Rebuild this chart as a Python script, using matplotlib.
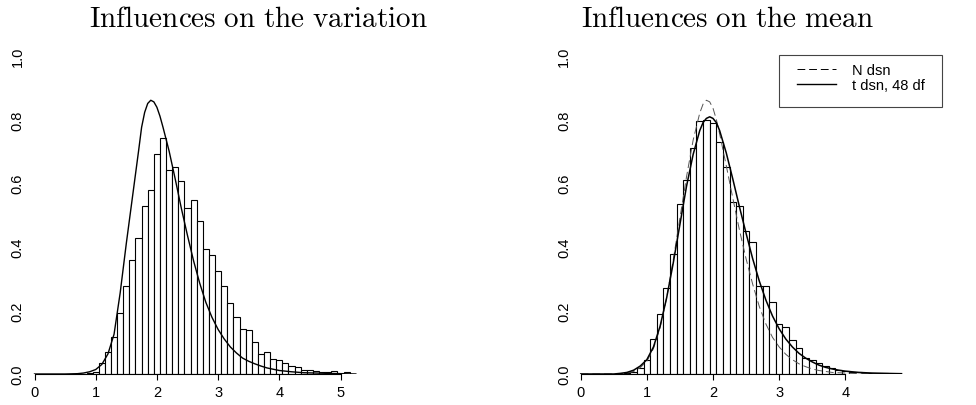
import numpy as np
import matplotlib
matplotlib.use("Agg")
import matplotlib.pyplot as plt
from matplotlib.lines import Line2D
from matplotlib.patches import Rectangle

matplotlib.rcParams["font.family"] = "sans-serif"
matplotlib.rcParams["font.sans-serif"] = ["Liberation Sans", "DejaVu Sans"]
matplotlib.rcParams["mathtext.fontset"] = "cm"

# histogram bins (width 0.1, edges at x.x5)
left_edges = np.round(np.arange(0.85, 5.251, 0.1), 2)
left_dens = [0.002, 0.006, 0.033, 0.069, 0.115, 0.192, 0.277, 0.358, 0.428, 0.527,
             0.577, 0.690, 0.740, 0.642, 0.650, 0.607, 0.522, 0.547, 0.482, 0.394,
             0.373, 0.324, 0.278, 0.223, 0.179, 0.142, 0.137, 0.101, 0.063, 0.069,
             0.048, 0.045, 0.034, 0.026, 0.021, 0.013, 0.012, 0.009, 0.006, 0.005,
             0.010, 0.003, 0.007, 0.001]

right_edges = np.round(np.arange(0.65, 4.851, 0.1), 2)
right_dens = [0.002, 0.007, 0.020, 0.045, 0.109, 0.188, 0.270, 0.377, 0.535, 0.609,
              0.710, 0.794, 0.797, 0.789, 0.729, 0.651, 0.540, 0.527, 0.450, 0.416,
              0.275, 0.276, 0.227, 0.157, 0.147, 0.108, 0.083, 0.050, 0.045, 0.034,
              0.024, 0.018, 0.012, 0.009, 0.006, 0.005, 0.004, 0.003, 0.002, 0.002,
              0.001, 0.001]

# curves
left_cx = [0.0, 0.5, 0.7, 0.8, 0.9, 1.0, 1.1, 1.2, 1.3, 1.4,
           1.5, 1.6, 1.7, 1.75, 1.8, 1.85, 1.9, 1.95, 2.0, 2.05,
           2.1, 2.2, 2.3, 2.4, 2.5, 2.6, 2.7, 2.8, 2.9, 3.0,
           3.1, 3.2, 3.3, 3.4, 3.5, 3.6, 3.7, 3.8, 3.9, 4.0,
           4.2, 4.4, 4.6, 4.8, 5.0, 5.25]
left_cy = [0.0, 0.0, 0.001, 0.003, 0.007, 0.014, 0.030, 0.063, 0.125, 0.255,
           0.410, 0.555, 0.700, 0.775, 0.822, 0.850, 0.860, 0.855, 0.838, 0.810,
           0.775, 0.700, 0.612, 0.520, 0.435, 0.355, 0.285, 0.225, 0.178, 0.140,
           0.110, 0.085, 0.066, 0.050, 0.040, 0.032, 0.025, 0.019, 0.015, 0.011,
           0.007, 0.004, 0.003, 0.002, 0.001, 0.0]

right_cx = [0.0, 0.5, 0.6, 0.7, 0.8, 0.9, 1.0, 1.1, 1.2, 1.3,
            1.4, 1.5, 1.6, 1.7, 1.8, 1.85, 1.9, 1.95, 2.0, 2.05,
            2.1, 2.2, 2.3, 2.4, 2.5, 2.6, 2.7, 2.8, 2.9, 3.0,
            3.1, 3.2, 3.3, 3.4, 3.5, 3.6, 3.7, 3.8, 3.9, 4.0,
            4.2, 4.4, 4.6, 4.85]
t_curve = [0.0, 0.0, 0.002, 0.005, 0.012, 0.025, 0.045, 0.085, 0.150, 0.240,
           0.350, 0.470, 0.590, 0.690, 0.765, 0.790, 0.803, 0.808, 0.803, 0.790,
           0.765, 0.695, 0.612, 0.525, 0.442, 0.362, 0.292, 0.232, 0.182, 0.142,
           0.110, 0.085, 0.065, 0.050, 0.038, 0.028, 0.021, 0.016, 0.012, 0.009,
           0.005, 0.003, 0.002, 0.001]
n_curve = [0.0, 0.0, 0.001, 0.003, 0.008, 0.020, 0.040, 0.080, 0.145, 0.240,
           0.360, 0.490, 0.620, 0.735, 0.820, 0.848, 0.860, 0.855, 0.835, 0.800,
           0.755, 0.655, 0.552, 0.452, 0.362, 0.282, 0.212, 0.157, 0.115, 0.085,
           0.062, 0.045, 0.032, 0.023, 0.016, 0.011, 0.008, 0.005, 0.004, 0.003,
           0.001, 0.001, 0.0, 0.0]

titles = ["Influences on the variation", "Influences on the mean"]
legend_labels = ["N dsn", "t dsn, 48 df"]

W, H = 976, 406
fig = plt.figure(figsize=(W / 100, H / 100), dpi=100)

FS = 10.5


def px_axes(x0, x1, y_top, y_bot):
    return fig.add_axes([x0 / W, 1 - y_bot / H, (x1 - x0) / W, (y_bot - y_top) / H])


def r_style(ax, xmax_tick):
    for s in ["top", "right", "left"]:
        ax.spines[s].set_visible(False)
    ax.spines["bottom"].set_bounds(0, xmax_tick)
    ax.spines["bottom"].set_linewidth(0.8)
    ax.set_ylim(0, 1)
    ax.set_yticks([0, 0.2, 0.4, 0.6, 0.8, 1.0])
    ax.set_yticklabels(["0.0", "0.2", "0.4", "0.6", "0.8", "1.0"], rotation=90, va="center")
    ax.set_xticks(range(0, xmax_tick + 1))
    ax.tick_params(axis="x", length=4.5, width=0.8, labelsize=FS, pad=3.5)
    ax.tick_params(axis="y", length=0, labelsize=FS, pad=0.5)


def draw_hist(ax, edges, dens):
    ax.bar(edges[:-1], dens, width=np.diff(edges), align="edge",
           facecolor="white", edgecolor="black", linewidth=0.8)


# left panel: x=0 at px 34.5, 61.2 px per unit
x0l, sl = 34.5, 61.2
axl = px_axes(x0l - 9, 368, 56.7, 375)
draw_hist(axl, left_edges, left_dens)
axl.plot(left_cx, left_cy, color="black", linewidth=1.0)
axl.set_xlim(-9 / sl, (368 - x0l) / sl)
r_style(axl, 5)

# right panel: x=0 at px 580.7, 66.15 px per unit
x0r, sr = 580.7, 66.15
axr = px_axes(x0r - 9, 911, 56.7, 375)
draw_hist(axr, right_edges, right_dens)
axr.plot(right_cx, n_curve, color="#555555", linewidth=0.7, linestyle=(0, (8, 4)))
axr.plot(right_cx, t_curve, color="black", linewidth=1.1)
axr.set_xlim(-9 / sr, (911 - x0r) / sr)
r_style(axr, 4)

handles = [Line2D([], [], color="black", linewidth=0.7, linestyle=(0, (8, 4))),
           Line2D([], [], color="black", linewidth=1.0)]
axr.legend(handles, legend_labels, loc="upper left",
           bbox_to_anchor=((797 - x0r) / sr, (375 - 64) / 318),
           bbox_transform=axr.transData, frameon=False, fontsize=FS,
           handlelength=2.7, handletextpad=1.1, labelspacing=0.1, borderpad=0,
           borderaxespad=0)
box = Rectangle((3.0, (375 - 108.3) / 318), (941 - 778.3) / sr, (108.3 - 56.7) / 318,
                transform=axr.transData, fill=False, edgecolor="#444444",
                linewidth=0.8, clip_on=False)
axr.add_patch(box)

fig.text(258 / W, 1 - 27 / H, r"$\mathrm{Influences\ on\ the\ variation}$",
         ha="center", va="baseline", fontsize=21)
fig.text(727 / W, 1 - 27 / H, r"$\mathrm{Influences\ on\ the\ mean}$",
         ha="center", va="baseline", fontsize=21)

fig.savefig("out.png", dpi=100)
